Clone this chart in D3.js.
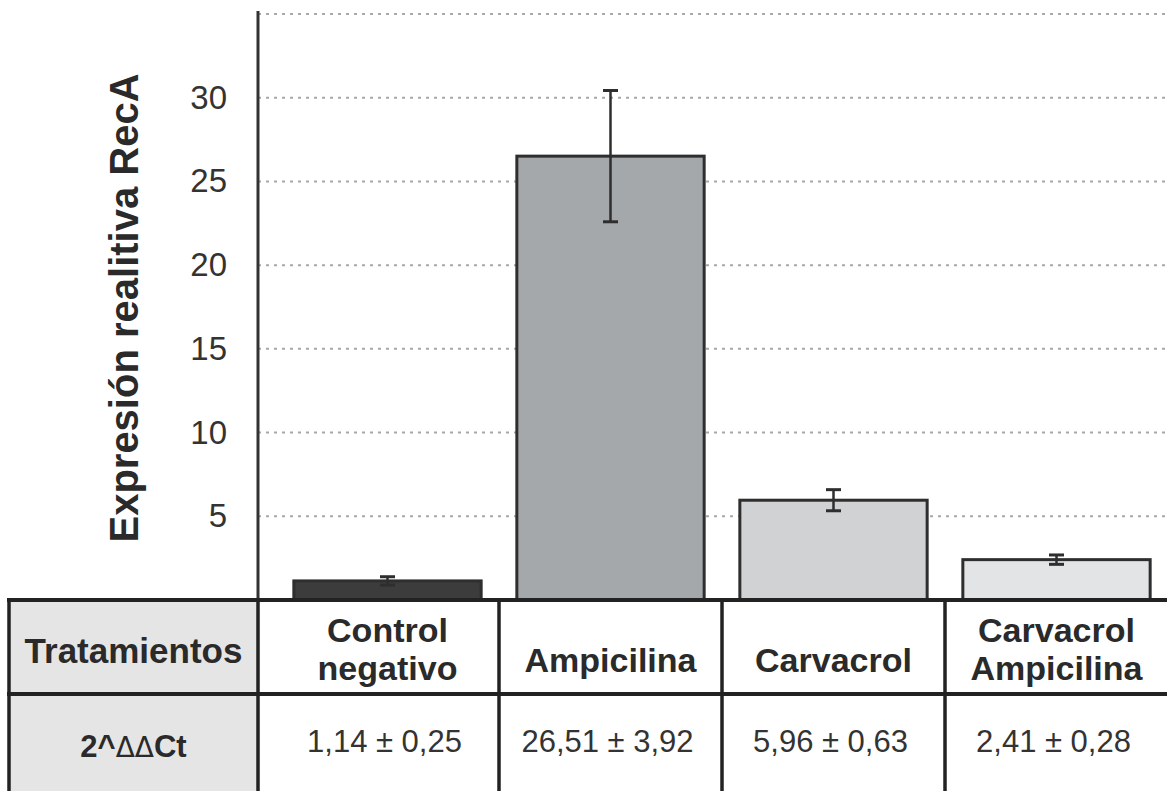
<!DOCTYPE html>
<html>
<head>
<meta charset="utf-8">
<script src="https://cdn.jsdelivr.net/npm/d3@7"></script>
<style>
  body { margin: 0; background: #fff; }
  svg { display: block; font-family: "Liberation Sans", Arial, sans-serif; }
</style>
</head>
<body>
<svg width="1167" height="791"></svg>
<script>
// treatments (line breaks as in the table header)
const categories = ["Control\nnegativo", "Ampicilina", "Carvacrol", "Carvacrol\nAmpicilina"];
// 2^ΔΔCt mean and standard deviation
const means = [1.14, 26.51, 5.96, 2.41];
const sds = [0.25, 3.92, 0.63, 0.28];
const yTicks = [5, 10, 15, 20, 25, 30];
const gridValues = [5, 10, 15, 20, 25, 30, 35];

const fills = ["#3c3c3c", "#a5a8aa", "#d0d2d4", "#e3e4e6"];

const width = 1167, height = 791;
const axisX = 258, tableTop = 600, rowSplit = 694, tableLeft = 9;

const svg = d3.select("svg");

// scales
const y = d3.scaleLinear().domain([0, 35]).range([tableTop, 14]);
const x = d3.scaleBand()
            .domain(categories)
            .range([276, 1168])
            .paddingInner(0.16)
            .paddingOuter(0.08);

// dotted gridlines
svg.append("g")
   .selectAll("line")
   .data(gridValues)
   .join("line")
   .attr("x1", axisX).attr("x2", width)
   .attr("y1", d => y(d)).attr("y2", d => y(d))
   .attr("stroke", "#a8a8a8")
   .attr("stroke-width", 2)
   .attr("stroke-dasharray", "3,5");

// bars
svg.append("g")
   .selectAll("rect")
   .data(categories)
   .join("rect")
   .attr("x", d => x(d))
   .attr("width", x.bandwidth())
   .attr("y", (d, i) => y(means[i]))
   .attr("height", (d, i) => tableTop - y(means[i]))
   .attr("fill", (d, i) => fills[i])
   .attr("stroke", "#2e2e2e")
   .attr("stroke-width", 3);

// error bars
const err = svg.append("g")
   .attr("stroke", "#2e2e2e")
   .selectAll("g")
   .data(categories)
   .join("g")
   .attr("transform", d => "translate(" + (x(d) + x.bandwidth() / 2) + ",0)");

err.append("line")
   .attr("y1", (d, i) => y(means[i] + sds[i]))
   .attr("y2", (d, i) => y(means[i] - sds[i]))
   .attr("stroke-width", 2.5);
err.append("line")
   .attr("x1", -7.5).attr("x2", 7.5)
   .attr("y1", (d, i) => y(means[i] + sds[i]))
   .attr("y2", (d, i) => y(means[i] + sds[i]))
   .attr("stroke-width", 3);
err.append("line")
   .attr("x1", -7.5).attr("x2", 7.5)
   .attr("y1", (d, i) => y(means[i] - sds[i]))
   .attr("y2", (d, i) => y(means[i] - sds[i]))
   .attr("stroke-width", 3);

// y axis
const yAxis = svg.append("g")
   .attr("transform", "translate(" + axisX + ",0)")
   .call(d3.axisLeft(y).tickValues(yTicks).tickSize(0).tickPadding(31));
yAxis.select(".domain")
   .attr("stroke", "#333")
   .attr("stroke-width", 3)
   .attr("d", "M0," + 11 + "V" + tableTop);
yAxis.selectAll("text")
   .attr("font-size", 33)
   .attr("font-family", "Liberation Sans, Arial, sans-serif")
   .attr("fill", "#333");

svg.append("text")
   .attr("transform", "translate(124,308) rotate(-90)")
   .attr("text-anchor", "middle")
   .attr("dominant-baseline", "central")
   .attr("font-size", 40)
   .attr("font-weight", "bold")
   .attr("fill", "#2a2a2a")
   .text("Expresión realitiva RecA");

// ---- table below the chart ----
const table = svg.append("g");

table.append("rect")
   .attr("x", tableLeft).attr("y", tableTop)
   .attr("width", axisX - tableLeft).attr("height", height - tableTop)
   .attr("fill", "#e5e5e5");

// column borders halfway between neighbouring bars
const step = x.step();
const colEdges = [tableLeft, axisX].concat(
  categories.slice(1).map(d => x(d) - step * x.paddingInner() / 2)
);

table.selectAll(".vline")
   .data(colEdges)
   .join("line")
   .attr("class", "vline")
   .attr("x1", d => d).attr("x2", d => d)
   .attr("y1", tableTop).attr("y2", height)
   .attr("stroke", "#222")
   .attr("stroke-width", 3.5);

table.selectAll(".hline")
   .data([tableTop, rowSplit])
   .join("line")
   .attr("class", "hline")
   .attr("x1", tableLeft - 2).attr("x2", width)
   .attr("y1", d => d).attr("y2", d => d)
   .attr("stroke", "#222")
   .attr("stroke-width", 4);

// header row
table.append("text")
   .attr("x", (tableLeft + axisX) / 2).attr("y", 663)
   .attr("text-anchor", "middle")
   .attr("font-size", 35).attr("font-weight", "bold").attr("fill", "#2a2a2a")
   .text("Tratamientos");

table.selectAll(".cat")
   .data(categories)
   .join("text")
   .attr("class", "cat")
   .attr("text-anchor", "middle")
   .attr("font-size", 34).attr("font-weight", "bold").attr("fill", "#2a2a2a")
   .each(function (d) {
     const lines = d.split("\n");
     const cx = x(d) + x.bandwidth() / 2;
     const base = lines.length === 1 ? 672 : 642;
     d3.select(this).selectAll("tspan")
       .data(lines)
       .join("tspan")
       .attr("x", cx)
       .attr("y", (l, j) => base + j * 38)
       .text(l => l);
   });

// value row
const lbl = table.append("text")
   .attr("x", (tableLeft + axisX) / 2).attr("y", 757)
   .attr("text-anchor", "middle")
   .attr("font-size", 31).attr("font-weight", "bold").attr("fill", "#2a2a2a");
lbl.append("tspan").text("2^");
lbl.append("tspan").attr("font-weight", "normal").attr("font-family", "DejaVu Sans").attr("font-size", 28).text("ΔΔ");
lbl.append("tspan").text("Ct");

const fmt = v => d3.format(".2f")(v).replace(".", ",");
table.selectAll(".val")
   .data(categories)
   .join("text")
   .attr("class", "val")
   .attr("x", d => x(d) + x.bandwidth() / 2 - 3)
   .attr("y", 752)
   .attr("text-anchor", "middle")
   .attr("font-size", 31).attr("fill", "#333")
   .text((d, i) => fmt(means[i]) + " ± " + fmt(sds[i]));
</script>
</body>
</html>
